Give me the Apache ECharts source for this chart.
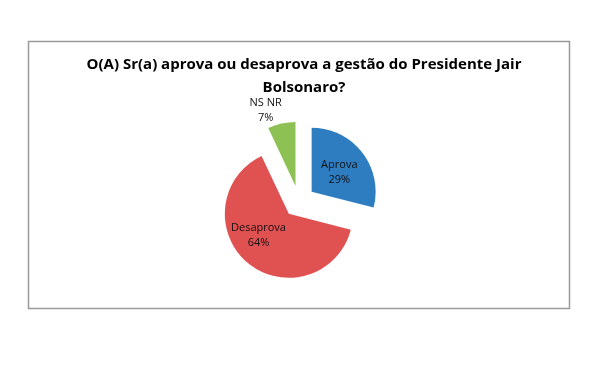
<!DOCTYPE html>
<html><head><meta charset="utf-8">
<script src="https://cdn.jsdelivr.net/npm/echarts@6/dist/echarts.min.js"></script>
<style>html,body{margin:0;padding:0;background:#fff}#c{width:604px;height:366px}</style>
</head><body><div id="c"></div>
<script>
const categories = ['Aprova', 'Desaprova', 'NS NR'];
const values = [29, 64, 7];
const colors = ['#2E7DC1', '#E05152', '#8DC153'];
const titleText = 'O(A) Sr(a) aprova ou desaprova a gestão do Presidente Jair\nBolsonaro?';
const labelShift = [[0, 2], [-8, -5], [10, -9]];

const chart = echarts.init(document.getElementById('c'));
const data = categories.map((n, i) => ({
  name: n, value: values[i], selected: true,
  itemStyle: { color: colors[i] },
  label: i === 2 ? { position: 'outside', formatter: '{c|{b}}\n{c|{d}%}' } : { position: 'inside' }
}));
chart.setOption({
  animation: false,
  graphic: [{ type: 'rect', shape: { x: 28.5, y: 41.5, width: 541, height: 267 },
    style: { fill: 'none', stroke: '#9a9a9a', lineWidth: 1.5 } }],
  title: { text: titleText, left: 299, top: 48, textAlign: 'center',
    textStyle: { fontFamily: 'Open Sans', fontWeight: 'bold', fontSize: 15, color: '#000', lineHeight: 23 } },
  series: [{
    type: 'pie', center: [299, 201.5], radius: 64, startAngle: 90, clockwise: true,
    selectedMode: 'multiple', selectedOffset: 16,
    label: { show: true, formatter: '{b}\n{d}%', fontFamily: 'Open Sans', fontSize: 11, color: '#111', lineHeight: 15,
      rich: { c: { width: 40, align: 'center', fontFamily: 'Open Sans', fontSize: 11, color: '#111', lineHeight: 15 } } },
    labelLine: { show: false, length: 4, length2: 0 },
    labelLayout: p => ({ dx: labelShift[p.dataIndex][0], dy: labelShift[p.dataIndex][1] }),
    emphasis: { disabled: true },
    data: data
  }]
});
</script></body></html>
